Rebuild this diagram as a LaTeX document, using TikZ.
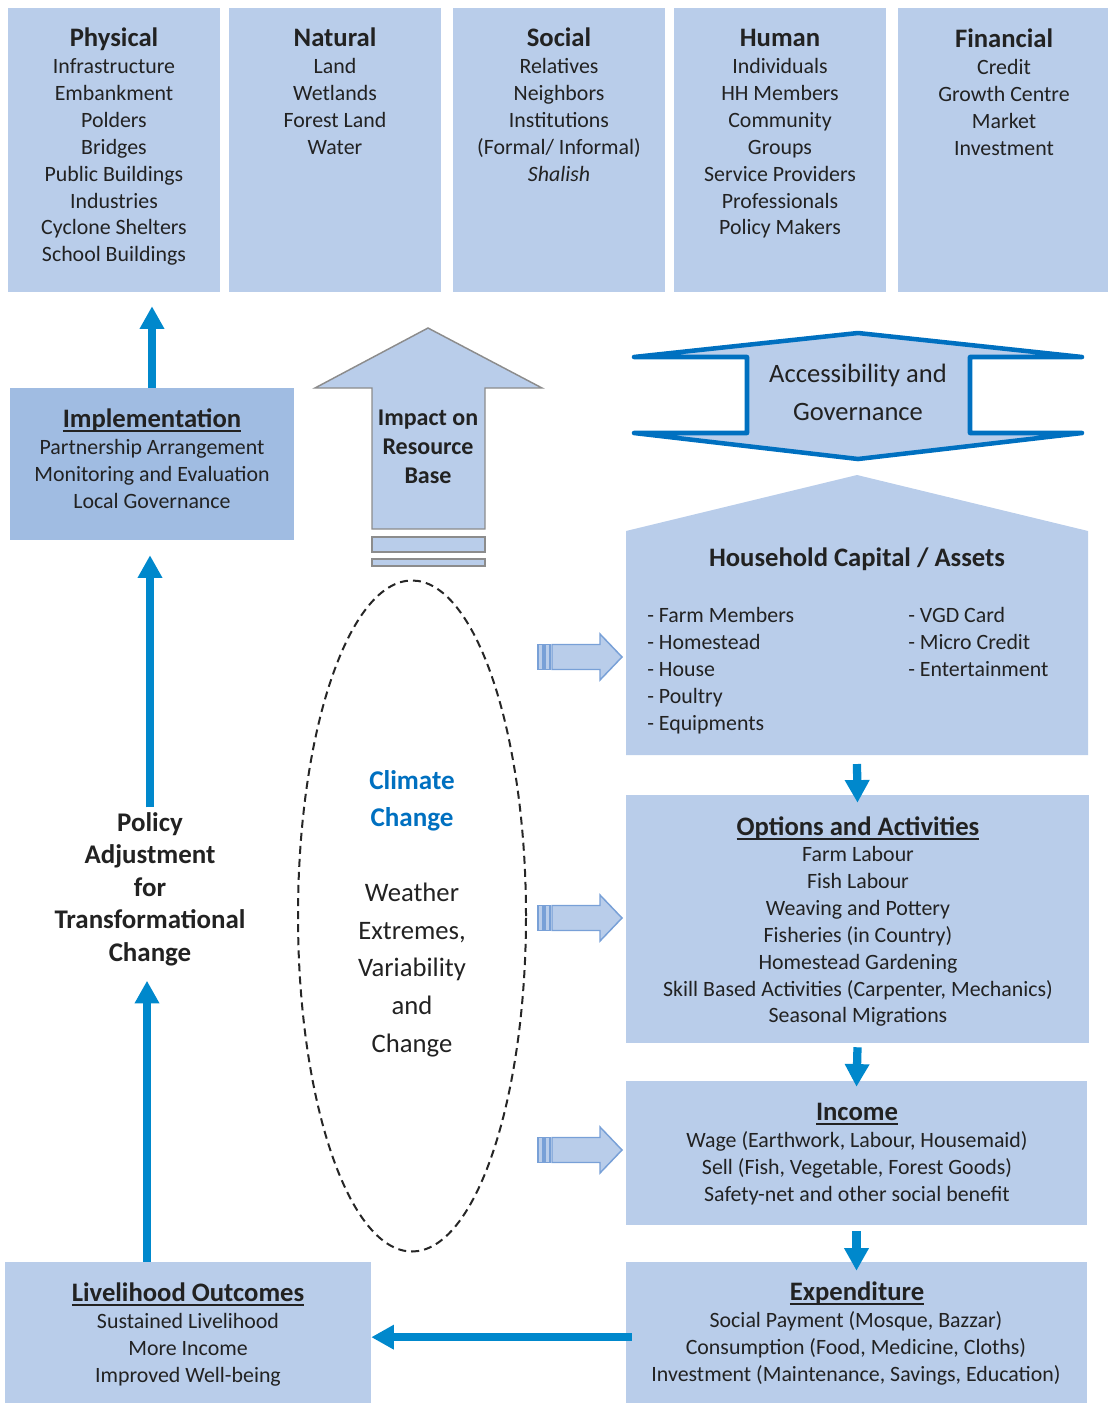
\documentclass[tikz,border=0pt]{standalone}
\usepackage{fontspec}
\setmainfont{Carlito}
\usetikzlibrary{arrows.meta,shapes.geometric}
\definecolor{boxfill}{RGB}{185,205,234}
\definecolor{implfill}{RGB}{160,188,226}
\definecolor{arrowblue}{RGB}{0,136,204}
\definecolor{accblue}{RGB}{0,112,192}
\definecolor{grayedge}{RGB}{140,140,140}
\definecolor{arrowedge}{RGB}{120,160,215}
\definecolor{txt}{RGB}{34,34,34}
\newcommand\textlines[6]{%
  \foreach \t [count=\i] in {#6} {\node[#2] (#1\i) at (#3,{#4+(\i-1)*#5}) {\t};}}
\newcommand\ulx[1]{\leavevmode\setbox0\hbox{#1}\rlap{\usebox0}\rule[-3.6pt]{\wd0}{1.4pt}}
\newcommand\stripearrow[2]{%
  \filldraw[smallarr] (538,#2-12.5) rectangle (543,#2+12.5);
  \filldraw[smallarr] (545,#2-12.5) rectangle (550,#2+12.5);
  \filldraw[smallarr] (552,#2-12.5) -- (600,#2-12.5) -- (600,#2-23) -- (622,#2)
     -- (600,#2+23) -- (600,#2+12.5) -- (552,#2+12.5) -- cycle;
  \coordinate (#1) at (622,#2);}
\begin{document}
\begin{tikzpicture}[x=0.75pt,y=-0.75pt,
  box/.style={fill=boxfill, draw=none, inner sep=0pt},
  body/.style={font=\fontsize{16.4}{19}\selectfont, text=txt, inner sep=0pt, text height=14.5pt, text depth=2.8pt},
  title/.style={font=\fontsize{20}{24}\selectfont\bfseries, text=txt, inner sep=0pt, text height=17pt, text depth=3.5pt},
  bluearrow/.style={draw=arrowblue, line width=6.2pt, -{Triangle[width=17.5pt,length=17pt]}},
  smallarr/.style={fill=boxfill, draw=arrowedge, line width=1.1pt, line join=miter},
]
\useasboundingbox (0,0) rectangle (1108,1403);

% ---------- top row of capitals ----------
\node[box, minimum width=212*0.75pt, minimum height=284*0.75pt] (phys) at (114,150) {};
\node[box, minimum width=212*0.75pt, minimum height=284*0.75pt] (nat)  at (335,150) {};
\node[box, minimum width=212*0.75pt, minimum height=284*0.75pt] (soc)  at (559,150) {};
\node[box, minimum width=212*0.75pt, minimum height=284*0.75pt] (hum)  at (780,150) {};
\node[box, minimum width=210*0.75pt, minimum height=284*0.75pt] (fin)  at (1003,150) {};

\node[title] (physT) at (114,37) {Physical};
\textlines{physL}{body}{114}{66}{26.85}{Infrastructure,Embankment,Polders,Bridges,Public Buildings,Industries,Cyclone Shelters,School Buildings}
\node[title] (natT) at (335,37) {Natural};
\textlines{natL}{body}{335}{66}{26.85}{Land,Wetlands,Forest Land,Water}
\node[title] (socT) at (559,37) {Social};
\textlines{socL}{body}{559}{66}{26.85}{Relatives,Neighbors,Institutions,{(Formal/ Informal)},{\itshape Shalish}}
\node[title] (humT) at (780,37) {Human};
\textlines{humL}{body}{780}{66}{26.85}{Individuals,HH Members,Community,Groups,Service Providers,Professionals,Policy Makers}
\node[title] (finT) at (1004,38) {Financial};
\textlines{finL}{body}{1004}{67}{26.8}{Credit,Growth Centre,Market,Investment}

% ---------- implementation ----------
\node[box, fill=implfill, minimum width=284*0.75pt, minimum height=152*0.75pt] (impl) at (152,464) {};
\node[title] (implT) at (152,418) {\ulx{Implementation}};
\textlines{implL}{body}{152}{447}{27}{Partnership Arrangement,Monitoring and Evaluation,Local Governance}

% ---------- policy ----------
\node[font=\fontsize{20.2}{24.4}\selectfont\bfseries, text=txt, align=center, inner sep=0pt] (policy) at (150,889)
  {Policy\\Adjustment\\for\\Transformational\\Change};

% ---------- livelihood outcomes ----------
\node[box, minimum width=366*0.75pt, minimum height=141*0.75pt] (livel) at (188,1332.5) {};
\node[title] (livelT) at (188,1292) {\ulx{Livelihood Outcomes}};
\textlines{livelL}{body}{188}{1321}{27}{Sustained Livelihood,More Income,Improved Well-being}

% ---------- right column ----------
\fill[boxfill] (626,755) -- (626,531) -- (857,475) -- (1088,531) -- (1088,755) -- cycle;
\coordinate (hhbot) at (857,755);
\node[title] (hhT) at (857,557) {Household Capital / Assets};
\textlines{hhA}{body, anchor=west}{647}{615}{27}{- Farm Members,- Homestead,- House,- Poultry,- Equipments}
\textlines{hhB}{body, anchor=west}{908}{615}{27}{- VGD Card,- Micro Credit,- Entertainment}

\node[box, minimum width=463*0.75pt, minimum height=248*0.75pt] (opt) at (857.5,919) {};
\node[title] (optT) at (858,826) {\ulx{Options and Activities}};
\textlines{optL}{body}{858}{854}{26.85}{Farm Labour,Fish Labour,Weaving and Pottery,Fisheries (in Country),Homestead Gardening,{Skill Based Activities (Carpenter, Mechanics)},Seasonal Migrations}

\node[box, minimum width=461*0.75pt, minimum height=144*0.75pt] (inc) at (856.5,1153) {};
\node[title] (incT) at (857,1111) {\ulx{Income}};
\textlines{incL}{body}{857}{1140}{26.7}{{Wage (Earthwork, Labour, Housemaid)},{Sell (Fish, Vegetable, Forest Goods)},Safety-net and other social benefit}

\node[box, minimum width=461*0.75pt, minimum height=141*0.75pt] (expd) at (856.5,1332.5) {};
\node[title] (expdT) at (857,1291) {\ulx{Expenditure}};
\textlines{expdL}{body}{856}{1320}{27}{{Social Payment (Mosque, Bazzar)},{Consumption (Food, Medicine, Cloths)},{Investment (Maintenance, Savings, Education)}}

% ---------- accessibility and governance ----------
\filldraw[fill=boxfill, draw=accblue, line width=3.4pt, line join=round]
  (634,357) -- (858,333) -- (1082,357) -- (970,357) -- (970,433) -- (1082,433)
  -- (858,459) -- (634,433) -- (747,433) -- (747,357) -- cycle;
\node[font=\fontsize{19.9}{28.5}\selectfont, text=txt, align=center, inner sep=0pt] (acc) at (858,392)
  {Accessibility and\\Governance};

% ---------- impact on resource base ----------
\filldraw[fill=boxfill, draw=grayedge, line width=1.1pt]
  (372,529) -- (372,388) -- (315,388) -- (428,328) -- (542,388) -- (485,388) -- (485,529) -- cycle;
\filldraw[fill=boxfill, draw=grayedge, line width=1.1pt] (372,537) rectangle (485,552);
\filldraw[fill=boxfill, draw=grayedge, line width=1.1pt] (372,559) rectangle (485,566);
\node[font=\fontsize{18}{21.75}\selectfont\bfseries, text=txt, align=center, inner sep=0pt] (impact) at (428,447)
  {Impact on\\Resource\\Base};

% ---------- climate change ----------
\node[draw=black!85, ellipse, dash pattern=on 6pt off 3.8pt, line width=1.5pt,
      minimum width=228*0.75pt, minimum height=671*0.75pt, inner sep=0pt] (cc) at (412,916) {};
\node[font=\fontsize{20.3}{27.75}\selectfont\bfseries, text=accblue, align=center, inner sep=0pt] (ccT) at (412,801)
  {Climate\\Change};
\node[font=\fontsize{20}{28.35}\selectfont, text=txt, align=center, inner sep=0pt] (weather) at (412,970)
  {Weather\\Extremes,\\Variability\\and\\Change};

% ---------- striped arrows ----------
\stripearrow{sa1}{657}
\stripearrow{sa2}{918}
\stripearrow{sa3}{1150}

% ---------- blue connectors ----------
\draw[bluearrow, shorten >=10.5pt] (impl.north) -- (impl.north |- phys.south);
\draw[bluearrow, shorten >=11.25pt, shorten <=3.5pt] (policy.north) -- (policy.north |- impl.south);
\draw[bluearrow, shorten >=11pt] ([xshift=-2.25pt]livel.north -| policy.south) -- ([xshift=-2.25pt]policy.south);
\draw[bluearrow] ([xshift=4.5pt,yshift=-3.5pt]expd.west) -- ([yshift=-3.5pt]livel.east);
\draw[bluearrow] ([yshift=-6.75pt]hhbot) -- ([yshift=-6pt]opt.north);
\draw[bluearrow] ([yshift=-3pt]opt.south) -- ([yshift=-4.5pt]inc.north);
\draw[bluearrow] ([yshift=-4.5pt]inc.south) -- ([yshift=-6.75pt]expd.north);
\end{tikzpicture}
\end{document}
